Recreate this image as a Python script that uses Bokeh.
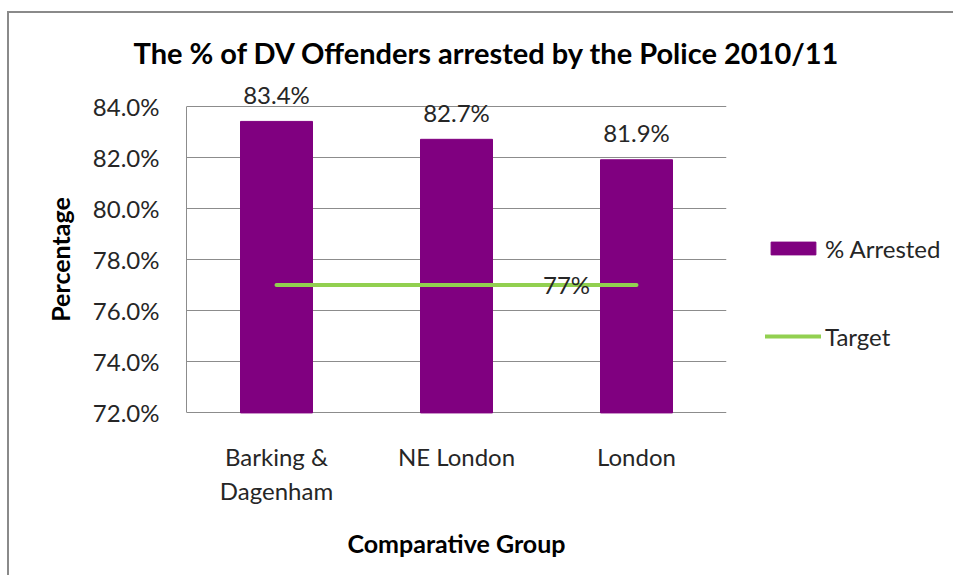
from bokeh.plotting import figure
from bokeh.models import (ColumnDataSource, FactorRange, Range1d, FixedTicker,
                          PrintfTickFormatter, Legend, LegendItem)
from bokeh.core.properties import value
from bokeh.embed import file_html
from bokeh.resources import INLINE

# ---- data ----
categories = ["Barking &\nDagenham", "NE London", "London"]
arrested = [83.4, 82.7, 81.9]
arrested_labels = ["83.4%", "82.7%", "81.9%"]
target = [77, 77, 77]
target_label = "77%"
y_ticks = [72, 74, 76, 78, 80, 82, 84]

title_text = "The % of DV Offenders arrested by the Police 2010/11"
x_title = "Comparative Group"
y_title = "Percentage"

FONT = "Lato"
TXT = "#262626"
PURPLE = "#800080"
GREEN = "#92D050"
GRID = "#8c8c8c"
FS = "24px"

src = ColumnDataSource(dict(cat=categories, val=arrested, lab=arrested_labels, tgt=target))

p = figure(frame_width=540, frame_height=358, x_range=FactorRange(*categories),
           y_range=Range1d(71, 85), output_backend="svg", toolbar_location=None,
           min_border_left=177, min_border_top=67, min_border_right=227, min_border_bottom=137)
p.styles = {"border-left": "2px solid #8a8a8a", "border-top": "2px solid #8a8a8a",
            "margin-top": "11px", "margin-left": "7px"}
p.outline_line_color = None
p.background_fill_color = "white"
p.border_fill_color = "white"

bars = p.vbar(x="cat", top="val", bottom=y_ticks[0], width=0.4, source=src,
              fill_color=PURPLE, line_color=PURPLE)
tline = p.line(x="cat", y="tgt", source=src, line_color=GREEN, line_width=4,
               line_cap="round")

p.text(x="cat", y="val", text="lab", source=src, text_align="center",
       text_baseline="middle", y_offset=-27, text_font=value(FONT),
       text_font_size=FS, text_color=TXT)

p.text(x=[categories[-1]], y=[target[-1]], text=[target_label], text_align="center",
       text_baseline="middle", x_offset=-70, y_offset=-1, text_font=value(FONT),
       text_font_size=FS, text_color=TXT)

# title
p.title.text = title_text
p.title.align = "left"
p.title.offset = -53
p.title.standoff = 22
p.title.text_font = FONT
p.title.text_font_style = "bold"
p.title.text_font_size = "29px"
p.title.text_color = "black"

# axes
p.yaxis.ticker = FixedTicker(ticks=y_ticks)
p.yaxis.bounds = (y_ticks[0], y_ticks[-1])
p.yaxis.formatter = PrintfTickFormatter(format="%.1f%%")
p.yaxis.major_tick_line_color = None
p.yaxis.minor_tick_line_color = None
p.yaxis.axis_line_color = GRID
p.yaxis.major_label_standoff = 21
p.yaxis.major_label_text_font = FONT
p.yaxis.major_label_text_font_size = FS
p.yaxis.major_label_text_color = TXT
p.yaxis.axis_label = y_title
p.yaxis.axis_label_text_font = FONT
p.yaxis.axis_label_text_font_style = "bold"
p.yaxis.axis_label_text_font_size = "25px"
p.yaxis.axis_label_text_color = "black"
p.yaxis.axis_label_standoff = 15

p.xaxis.major_tick_line_color = None
p.xaxis.minor_tick_line_color = None
p.xaxis.axis_line_color = None
p.xaxis.major_label_standoff = -3
p.xaxis.major_label_text_font = FONT
p.xaxis.major_label_text_font_size = FS
p.xaxis.major_label_text_color = TXT
p.xaxis.axis_label = x_title
p.xaxis.axis_label_text_font = FONT
p.xaxis.axis_label_text_font_style = "bold"
p.xaxis.axis_label_text_font_size = "25px"
p.xaxis.axis_label_text_color = "black"
p.xaxis.axis_label_standoff = 20

p.xgrid.grid_line_color = None
p.ygrid.grid_line_color = GRID
p.ygrid.grid_line_width = 1

legend = Legend(items=[LegendItem(label="% Arrested", renderers=[bars]),
                       LegendItem(label="Target", renderers=[tline])],
                location=(39, 87), glyph_width=56, glyph_height=16, label_standoff=4,
                label_height=30, spacing=58, padding=0, margin=0, border_line_color=None,
                background_fill_alpha=0, label_text_font=FONT,
                label_text_font_size=FS, label_text_color=TXT)
p.add_layout(legend, "right")

open("out.html", "w").write(file_html(p, INLINE))
